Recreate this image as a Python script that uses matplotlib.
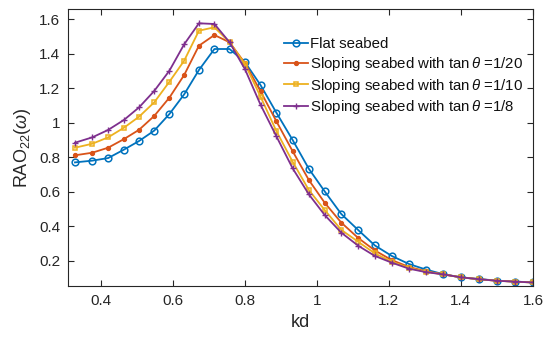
import matplotlib
matplotlib.use("Agg")
import matplotlib.pyplot as plt
from matplotlib.ticker import FuncFormatter

plt.rcParams['font.family'] = ['Liberation Sans', 'DejaVu Sans']
plt.rcParams['mathtext.fontset'] = 'custom'
plt.rcParams['mathtext.it'] = 'Liberation Sans:italic'
plt.rcParams['mathtext.rm'] = 'Liberation Sans'

kd = [0.329, 0.377, 0.421, 0.465, 0.507, 0.549, 0.591, 0.632, 0.673, 0.716,
      0.758, 0.801, 0.844, 0.888, 0.933, 0.978, 1.022, 1.068, 1.115, 1.161,
      1.208, 1.256, 1.303, 1.351, 1.40, 1.45, 1.50, 1.55, 1.60]

flat = [0.771, 0.781, 0.796, 0.845, 0.895, 0.955, 1.051, 1.165, 1.306, 1.428,
        1.428, 1.351, 1.219, 1.059, 0.901, 0.734, 0.603, 0.472, 0.379, 0.290,
        0.229, 0.182, 0.150, 0.123, 0.105, 0.095, 0.086, 0.080, 0.076]

slope_20 = [0.812, 0.827, 0.856, 0.906, 0.960, 1.040, 1.146, 1.277, 1.447, 1.509,
            1.467, 1.345, 1.183, 1.009, 0.836, 0.669, 0.537, 0.422, 0.333, 0.261,
            0.205, 0.165, 0.140, 0.122, 0.105, 0.094, 0.085, 0.080, 0.075]

slope_10 = [0.856, 0.879, 0.916, 0.972, 1.036, 1.119, 1.238, 1.360, 1.534, 1.554,
            1.467, 1.340, 1.152, 0.952, 0.775, 0.611, 0.495, 0.380, 0.311, 0.244,
            0.195, 0.160, 0.137, 0.122, 0.105, 0.094, 0.085, 0.080, 0.075]

slope_8 = [0.885, 0.916, 0.959, 1.017, 1.090, 1.185, 1.302, 1.455, 1.577, 1.573,
           1.467, 1.310, 1.105, 0.922, 0.737, 0.586, 0.466, 0.364, 0.288, 0.229,
           0.190, 0.155, 0.135, 0.122, 0.105, 0.094, 0.085, 0.080, 0.075]

labels = ['Flat seabed',
          r'Sloping seabed with tan$\,\mathit{\theta}$ =1/20',
          r'Sloping seabed with tan$\,\mathit{\theta}$ =1/10',
          r'Sloping seabed with tan$\,\mathit{\theta}$ =1/8']

xticks = [0.4, 0.6, 0.8, 1.0, 1.2, 1.4, 1.6]
yticks = [0.2, 0.4, 0.6, 0.8, 1.0, 1.2, 1.4, 1.6]

fig = plt.figure(figsize=(5.5, 3.4), dpi=100)
ax = fig.add_axes([0.1245, 0.159, 0.8445, 0.8136])

ax.plot(kd, flat, color='#0072BD', lw=1.3, marker='o', ms=4.8, mfc='none', mew=1.1, label=labels[0])
ax.plot(kd, slope_20, color='#D95319', lw=1.3, marker='o', ms=3, mfc='#D95319', mew=0.8, label=labels[1])
ax.plot(kd, slope_10, color='#EDB120', lw=1.3, marker='s', ms=3.5, mfc='none', mew=1.1, label=labels[2])
ax.plot(kd, slope_8, color='#7E2F8E', lw=1.3, marker='+', ms=5, mew=1.0, label=labels[3])

ax.set_xlim(0.311, 1.6)
ax.set_ylim(0.055, 1.658)
ax.set_xticks(xticks)
ax.set_yticks(yticks)
fmt = FuncFormatter(lambda v, p: '%g' % round(v, 2))
ax.xaxis.set_major_formatter(fmt)
ax.yaxis.set_major_formatter(fmt)

for s in ax.spines.values():
    s.set_color('#262626')
    s.set_linewidth(0.8)
ax.tick_params(direction='in', top=True, right=True, length=4, width=0.8,
               color='#262626', labelsize=11, labelcolor='#262626', pad=6)

ax.set_xlabel('kd', fontsize=13, color='#262626', labelpad=4)
ax.set_ylabel(r'RAO$_{22}$($\mathit{\omega}$)', fontsize=13, color='#262626', labelpad=4)

leg = ax.legend(loc='upper left', bbox_to_anchor=(0.452, 0.92), frameon=False,
                fontsize=10.8, handlelength=1.55, handletextpad=0.15,
                labelspacing=0.24, borderaxespad=0)
for t in leg.get_texts():
    t.set_color('#111111')

fig.savefig('out.png', dpi=100)
